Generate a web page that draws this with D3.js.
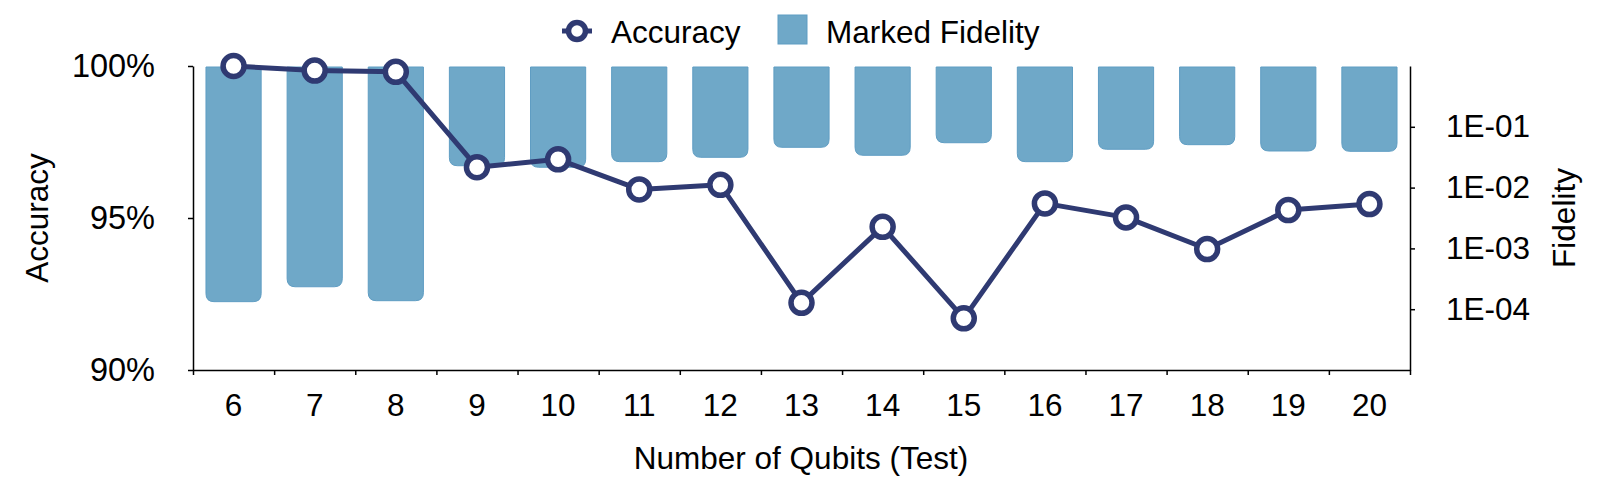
<!DOCTYPE html>
<html>
<head>
<meta charset="utf-8">
<script src="https://cdn.jsdelivr.net/npm/d3@7"></script>
<style>
  html, body { margin: 0; padding: 0; background: #ffffff; }
  svg { display: block; }
  text { font-family: "Liberation Sans", Arial, Helvetica, sans-serif; fill: #000; }
</style>
</head>
<body>
<svg id="chart" width="1600" height="491"></svg>
<script>
const categories = ["6","7","8","9","10","11","12","13","14","15","16","17","18","19","20"];
const accuracy = [100, 99.85, 99.81, 96.67, 96.93, 95.94, 96.09, 92.21, 94.71, 91.70, 95.48, 95.02, 93.98, 95.26, 95.46];
const fidelity = [1.33e-4, 2.34e-4, 1.38e-4, 0.0229, 0.0216, 0.0267, 0.0315, 0.046, 0.034, 0.0547, 0.0267, 0.0427, 0.0508, 0.040, 0.0395];
const accuracyTicks = [90, 95, 100];
const accuracyTickLabels = ["90%", "95%", "100%"];
const fidelityTicks = [1e-1, 1e-2, 1e-3, 1e-4];
const fidelityTickLabels = ["1E-01", "1E-02", "1E-03", "1E-04"];
const fidelityDomain = [1e-5, 1];
const accuracyDomain = [90, 100];

const W = 1600, H = 491;
const m = { left: 193, right: 1410, top: 66, bottom: 370 };
const lineColor = "#2f3a72";
const barColor = "#6fa8c8";
const FS = 31.5;

const svg = d3.select("#chart");

const x = d3.scaleBand().domain(categories).range([m.left, m.right]).paddingInner(0.32).paddingOuter(0.16);
const xEdge = d3.scaleLinear().domain([0, categories.length]).range([m.left, m.right]);
const yAcc = d3.scaleLinear().domain(accuracyDomain).range([m.bottom, m.top]);
const yFid = d3.scaleLog().domain(fidelityDomain).range([m.bottom, m.top]);

// Bars hanging from the top (fidelity = 1) with rounded bottom corners
const r = 8;
function barPath(d, i) {
  const x0 = x(categories[i]), w = x.bandwidth();
  const top = yFid(1) + 1, bot = yFid(d);
  const rr = Math.min(r, (bot - top) / 2, w / 2);
  return `M${x0},${top}H${x0 + w}V${bot - rr}Q${x0 + w},${bot} ${x0 + w - rr},${bot}H${x0 + rr}Q${x0},${bot} ${x0},${bot - rr}Z`;
}
svg.append("g").selectAll("path").data(fidelity).join("path")
  .attr("d", barPath)
  .attr("fill", barColor)
  .attr("stroke", "#5f9dc3")
  .attr("stroke-width", 1);

// Axes
function styleAxis(g) {
  g.select(".domain").attr("stroke", "#000").attr("stroke-width", 1.5);
  g.selectAll(".tick line").attr("stroke", "#000").attr("stroke-width", 1.5);
  g.selectAll("text").attr("font-size", FS).attr("font-family", '"Liberation Sans", Arial, sans-serif').attr("fill", "#000");
}

const leftAxis = svg.append("g").attr("transform", `translate(${m.left},0)`)
  .call(d3.axisLeft(yAcc).tickValues(accuracyTicks).tickFormat((d, i) => accuracyTickLabels[i]).tickSize(5).tickPadding(33).tickSizeOuter(0));
styleAxis(leftAxis);
leftAxis.selectAll("text").attr("font-size", 32.5);

const rightAxis = svg.append("g").attr("transform", `translate(${m.right},0)`)
  .call(d3.axisRight(yFid).tickValues(fidelityTicks).tickFormat((d, i) => fidelityTickLabels[i]).tickSize(5).tickPadding(31).tickSizeOuter(0));
styleAxis(rightAxis);

// bottom axis: boundary ticks + centred labels
const edgeAxis = svg.append("g").attr("transform", `translate(0,${m.bottom})`)
  .call(d3.axisBottom(xEdge).tickValues(d3.range(categories.length + 1)).tickFormat("").tickSize(5).tickSizeOuter(0));
styleAxis(edgeAxis);
const labelAxis = svg.append("g").attr("transform", `translate(0,${m.bottom})`)
  .call(d3.axisBottom(x).tickSize(0).tickPadding(24));
labelAxis.select(".domain").remove();
styleAxis(labelAxis);

// Accuracy line
const line = d3.line().x((d, i) => x(categories[i]) + x.bandwidth() / 2).y(d => yAcc(d));
svg.append("path").datum(accuracy)
  .attr("d", line).attr("fill", "none").attr("stroke", lineColor).attr("stroke-width", 5).attr("stroke-linejoin", "round");
svg.append("g").selectAll("circle").data(accuracy).join("circle")
  .attr("cx", (d, i) => x(categories[i]) + x.bandwidth() / 2)
  .attr("cy", d => yAcc(d))
  .attr("r", 10.5)
  .attr("fill", "#fff")
  .attr("stroke", lineColor)
  .attr("stroke-width", 5.5);

// Axis titles
svg.append("text").attr("transform", `translate(48,218) rotate(-90)`)
  .attr("text-anchor", "middle").attr("font-size", FS).text("Accuracy");
svg.append("text").attr("transform", `translate(1575,218) rotate(-90)`)
  .attr("text-anchor", "middle").attr("font-size", FS).text("Fidelity");
svg.append("text").attr("x", 801).attr("y", 469)
  .attr("text-anchor", "middle").attr("font-size", FS).text("Number of Qubits (Test)");

// Legend
const lg = svg.append("g");
lg.append("line").attr("x1", 562).attr("x2", 592).attr("y1", 31).attr("y2", 31).attr("stroke", lineColor).attr("stroke-width", 5);
lg.append("circle").attr("cx", 577).attr("cy", 31).attr("r", 8.5).attr("fill", "#fff").attr("stroke", lineColor).attr("stroke-width", 5.5);
lg.append("text").attr("x", 611).attr("y", 43).attr("font-size", FS).text("Accuracy");
lg.append("rect").attr("x", 778).attr("y", 15).attr("width", 29).attr("height", 29).attr("fill", barColor).attr("stroke", "#5f9dc3");
lg.append("text").attr("x", 826).attr("y", 43).attr("font-size", FS).text("Marked Fidelity");
</script>
</body>
</html>
